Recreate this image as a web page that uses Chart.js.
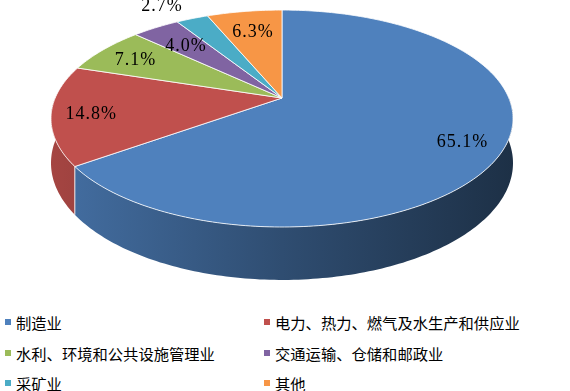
<!DOCTYPE html>
<html><head><meta charset="utf-8">
<script src="https://cdn.jsdelivr.net/npm/chart.js@4/dist/chart.umd.min.js"></script>
<style>
html,body{margin:0;padding:0;background:#fff;}
#wrap{position:relative;width:570px;height:391px;overflow:hidden;}
#c{position:absolute;left:0;top:0;}
.lg{position:absolute;display:flex;align-items:center;height:16px;font:15.3px "Noto Sans CJK SC";color:#000;white-space:nowrap;line-height:16px;}
.lg i{display:inline-block;width:6px;height:6px;margin-right:5px;flex:none;}
</style></head><body>
<div id="wrap"><canvas id="c" width="570" height="300"></canvas><div id="legend"></div></div>
<script>
// ---- data ----
const categories = ['制造业','电力、热力、燃气及水生产和供应业','水利、环境和公共设施管理业','交通运输、仓储和邮政业','采矿业','其他'];
const shares = [65.1, 14.8, 7.1, 4.0, 2.7, 6.3];
const valueLabels = shares.map(v => v.toFixed(1) + '%');
const colors = ['#4F81BD','#C0504D','#9BBB59','#8064A2','#4BACC6','#F79646'];

// ---- style / layout ----
// per-label placement: [radius fraction, dx, dy]
const labelPlace = [[0.83,0,2],[0.83,0,2],[0.83,4,3],[0.83,11,8],[1.15,-19,-2],[0.83,3,8]];
const PERSP = 0.189;

function hexRgb(h){const n=parseInt(h.slice(1),16);return [(n>>16)&255,(n>>8)&255,n&255];}
function shade(h,f){const c=hexRgb(h);return 'rgb('+c.map(v=>Math.round(v*f)).join(',')+')';}
function geom(chart){
  const a=chart.chartArea, W=a.right-a.left, Ht=a.bottom-a.top;
  return {cx:a.left+W/2, cy:a.top+Ht*0.326, kx:W/2*Math.sqrt(1-PERSP*PERSP), ky:Ht*0.3874, h:Ht*0.159};
}
function proj(g,th,r,drop){
  const u=r*Math.sin(th), t=-r*Math.cos(th), d=1-PERSP*t;
  return [g.cx+g.kx*u/d, g.cy+(g.ky*t+drop)/d];
}

const pie3d = {
  id:'pie3d',
  beforeDatasetsDraw(chart){
    const ctx=chart.ctx, g=geom(chart), a=chart.chartArea;
    const meta=chart.getDatasetMeta(0);
    const cols=chart.data.datasets[0].backgroundColor;
    const arcs=meta.data.map((el,i)=>({i, s:el.startAngle+Math.PI/2, e:el.endAngle+Math.PI/2}));
    const deg=Math.PI/180;
    ctx.save();
    // outer walls (near half only)
    arcs.forEach(({i,s,e})=>{
      const lo=Math.max(s,Math.PI/2), hi=Math.min(e,1.5*Math.PI);
      if(hi<=lo) return;
      const n=Math.max(2,Math.ceil((hi-lo)/deg));
      ctx.beginPath();
      for(let k=0;k<=n;k++){const p=proj(g,lo+(hi-lo)*k/n,1,0); k?ctx.lineTo(p[0],p[1]):ctx.moveTo(p[0],p[1]);}
      for(let k=n;k>=0;k--){const p=proj(g,lo+(hi-lo)*k/n,1,g.h); ctx.lineTo(p[0],p[1]);}
      ctx.closePath();
      const gr=ctx.createLinearGradient(a.left,0,a.right,0);
      gr.addColorStop(0,shade(cols[i],0.86));
      gr.addColorStop(0.5,shade(cols[i],0.6));
      gr.addColorStop(1,shade(cols[i],0.37));
      ctx.fillStyle=gr; ctx.fill();
    });
    // wall slice-edge lines
    ctx.strokeStyle='rgba(255,255,255,0.85)'; ctx.lineWidth=1;
    arcs.forEach(({s})=>{
      if(s>Math.PI/2 && s<1.5*Math.PI){
        const p1=proj(g,s,1,0), p2=proj(g,s,1,g.h);
        ctx.beginPath(); ctx.moveTo(p1[0],p1[1]); ctx.lineTo(p2[0],p2[1]); ctx.stroke();
      }
    });
    // tops
    arcs.forEach(({i,s,e})=>{
      const n=Math.max(2,Math.ceil((e-s)/deg));
      const c0=proj(g,0,0,0);
      ctx.beginPath(); ctx.moveTo(c0[0],c0[1]);
      for(let k=0;k<=n;k++){const p=proj(g,s+(e-s)*k/n,1,0); ctx.lineTo(p[0],p[1]);}
      ctx.closePath();
      ctx.fillStyle=cols[i]; ctx.fill();
      ctx.strokeStyle='rgba(255,255,255,0.8)'; ctx.lineWidth=1; ctx.stroke();
    });
    // labels
    ctx.fillStyle='#000';
    ctx.font='18px "Liberation Serif"';
    try{ctx.letterSpacing='1px';}catch(err){}
    ctx.textAlign='center'; ctx.textBaseline='middle';
    arcs.forEach(({i,s,e})=>{
      const lp=labelPlace[i], p=proj(g,(s+e)/2,lp[0],0);
      ctx.fillText(valueLabels[i], p[0]+lp[1], p[1]+lp[2]);
    });
    ctx.restore();
    return false;
  }
};

new Chart(document.getElementById('c'),{
  type:'pie',
  data:{labels:categories, datasets:[{data:shares, backgroundColor:colors}]},
  options:{responsive:false, animation:false,
    layout:{padding:{left:51,right:57,top:10,bottom:20}},
    plugins:{legend:{display:false}, tooltip:{enabled:false}}},
  plugins:[pie3d]
});

// legend
const lg=document.getElementById('legend');
categories.forEach((name,i)=>{
  const col=i%2, row=Math.floor(i/2);
  const d=document.createElement('div');
  d.className='lg';
  d.style.left=(col?264:5)+'px';
  d.style.top=(322+row*30.5-8)+'px';
  const sq=document.createElement('i'); sq.style.background=colors[i];
  d.appendChild(sq); d.appendChild(document.createTextNode(name));
  lg.appendChild(d);
});
</script>
</body></html>
